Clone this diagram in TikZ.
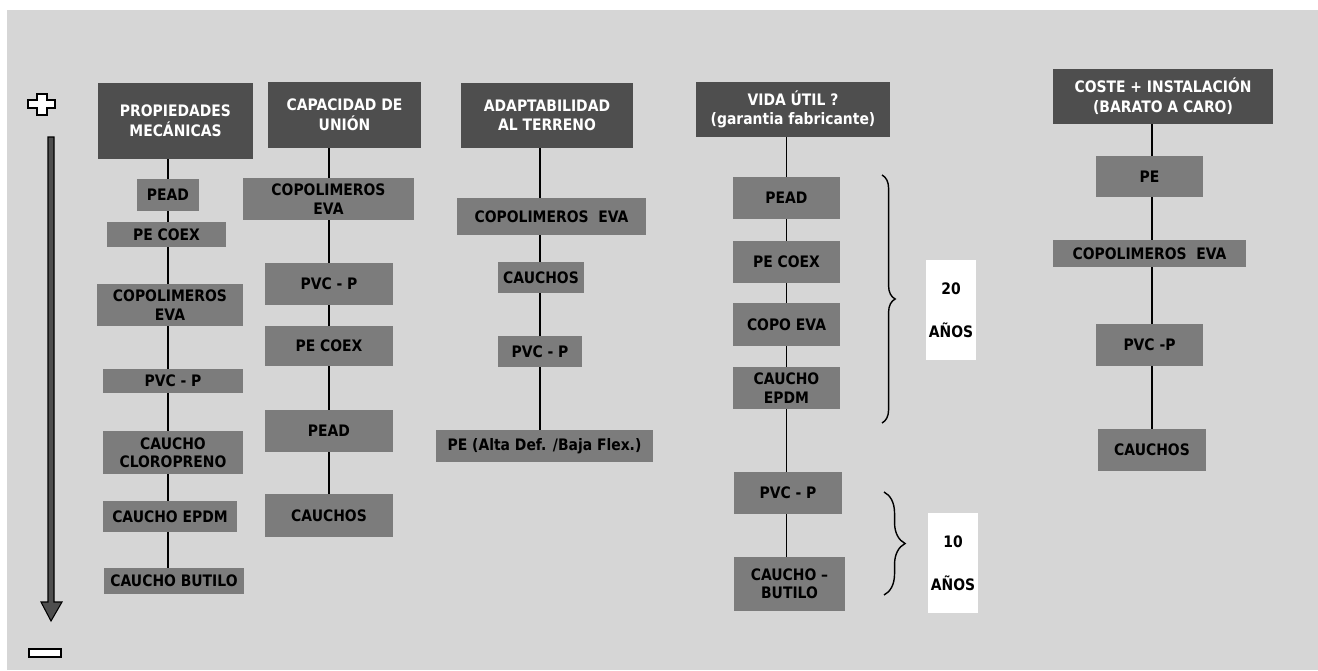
\documentclass[tikz,border=0pt]{standalone}
\usepackage{fontspec}
\setmainfont{DejaVu Sans}[FakeStretch=0.88]
\usepackage{tikz}
\usetikzlibrary{positioning, decorations.pathreplacing}
\usepackage{color}

\definecolor{bggray}{RGB}{214,214,214}
\definecolor{hdrgray}{RGB}{78,78,78}
\definecolor{itemgray}{RGB}{124,124,124}

\tikzset{
  hdr/.style={shape=rectangle, fill=hdrgray, text=white, align=center, inner sep=0pt,
    font=\fontsize{9}{11.2}\selectfont\bfseries},
  item/.style={shape=rectangle, fill=itemgray, text=black, align=center, inner sep=0pt,
    font=\fontsize{9}{10.4}\selectfont\bfseries},
  years/.style={shape=rectangle, fill=white, align=center, inner sep=0pt,
    minimum width=1cm, minimum height=2cm, font=\fontsize{9}{24.5}\selectfont\bfseries},
  link/.style={draw=black, line width=0.8pt},
  curly/.style={draw=black, line width=0.8pt, decorate, decoration={brace, amplitude=#1}}
}

\begin{document}
\begin{tikzpicture}[x=0.02cm, y=-0.02cm]
    \useasboundingbox (0,0) rectangle (1318,670);
    \fill[bggray] (7,10) rectangle (1318,670);

    % plus / arrow / minus scale
    \draw[fill=white, line width=1.2pt] (37,94) -- (47,94) -- (47,100) -- (55,100) -- (55,108) -- (47,108)
      -- (47,115) -- (37,115) -- (37,108) -- (28,108) -- (28,100) -- (37,100) -- cycle;
    \draw[fill=hdrgray, line width=0.6pt] (48,137) -- (54,137) -- (54,602) -- (62,602) -- (51,621)
      -- (41,602) -- (48,602) -- cycle;
    \draw[fill=white, line width=1.2pt] (29,649) rectangle (61,657);

    % propiedades mecanicas
    \node[hdr, minimum width=3.1cm, minimum height=1.52cm] (mec) at (175.5,121) {PROPIEDADES\\MECÁNICAS};
    \node[item, minimum width=1.24cm, minimum height=0.64cm] (mec1) at (168,195) {PEAD};
    \node[item, minimum width=2.38cm, minimum height=0.5cm] (mec2) at (166.5,234.5) {PE COEX};
    \node[item, minimum width=2.92cm, minimum height=0.84cm] (mec3) at (170,305) {COPOLIMEROS\\EVA};
    \node[item, minimum width=2.8cm, minimum height=0.48cm] (mec4) at (173,381) {PVC - P};
    \node[item, minimum width=2.8cm, minimum height=0.86cm] (mec5) at (173,452.5) {CAUCHO\\CLOROPRENO};
    \node[item, minimum width=2.68cm, minimum height=0.62cm] (mec6) at (170,516.5) {CAUCHO EPDM};
    \node[item, minimum width=2.8cm, minimum height=0.52cm] (mec7) at (174,581) {CAUCHO BUTILO};

    % capacidad de union
    \node[hdr, minimum width=3.06cm, minimum height=1.32cm] (uni) at (344.5,115) {CAPACIDAD DE\\UNIÓN};
    \node[item, minimum width=3.42cm, minimum height=0.84cm] (uni1) at (328.5,199) {COPOLIMEROS\\EVA};
    \node[item, minimum width=2.56cm, minimum height=0.84cm] (uni2) at (329,284) {PVC - P};
    \node[item, minimum width=2.56cm, minimum height=0.8cm] (uni3) at (329,346) {PE COEX};
    \node[item, minimum width=2.56cm, minimum height=0.84cm] (uni4) at (329,431) {PEAD};
    \node[item, minimum width=2.56cm, minimum height=0.86cm] (uni5) at (329,515.5) {CAUCHOS};

    % adaptabilidad al terreno
    \node[hdr, minimum width=3.44cm, minimum height=1.3cm] (ada) at (547,115.5) {ADAPTABILIDAD\\AL TERRENO};
    \node[item, minimum width=3.78cm, minimum height=0.74cm] (ada1) at (551.5,216.5) {COPOLIMEROS\ \ EVA};
    \node[item, minimum width=1.72cm, minimum height=0.62cm] (ada2) at (541,277.5) {CAUCHOS};
    \node[item, minimum width=1.68cm, minimum height=0.62cm] (ada3) at (540,351.5) {PVC - P};
    \node[item, minimum width=4.34cm, minimum height=0.64cm] (ada4) at (544.5,446) {PE (Alta Def. /Baja Flex.)};

    % vida util
    \node[hdr, minimum width=3.88cm, minimum height=1.1cm] (vid) at (793,109.5) {VIDA ÚTIL ?\\(garantia fabricante)};
    \node[item, minimum width=2.14cm, minimum height=0.84cm] (vid1) at (786.5,198) {PEAD};
    \node[item, minimum width=2.14cm, minimum height=0.84cm] (vid2) at (786.5,262) {PE COEX};
    \node[item, minimum width=2.14cm, minimum height=0.86cm] (vid3) at (786.5,324.5) {COPO EVA};
    \node[item, minimum width=2.14cm, minimum height=0.84cm] (vid4) at (786.5,388) {CAUCHO\\EPDM};
    \node[item, minimum width=2.16cm, minimum height=0.84cm] (vid5) at (788,493) {PVC - P};
    \node[item, minimum width=2.22cm, minimum height=1.08cm] (vid6) at (789.5,584) {CAUCHO –\\BUTILO};
    \node[years] (y20) at (951,310) {20\\AÑOS};
    \node[years] (y10) at (953,563) {10\\AÑOS};
    \draw[curly=7.5pt] (882,175) -- (882,423);
    \draw[curly=12pt] (884,492) -- (884,595);

    % coste + instalacion
    \node[hdr, minimum width=4.4cm, minimum height=1.1cm] (cos) at (1163,96.5) {COSTE + INSTALACIÓN\\(BARATO A CARO)};
    \node[item, minimum width=2.14cm, minimum height=0.82cm] (cos1) at (1149.5,176.5) {PE};
    \node[item, minimum width=3.86cm, minimum height=0.54cm] (cos2) at (1149.5,253.5) {COPOLIMEROS\ \ EVA};
    \node[item, minimum width=2.14cm, minimum height=0.84cm] (cos3) at (1149.5,345) {PVC -P};
    \node[item, minimum width=2.16cm, minimum height=0.84cm] (cos4) at (1152,450) {CAUCHOS};

    % lines down each column
    \foreach \a/\b in {mec/mec1, mec1/mec2, mec2/mec3, mec3/mec4, mec4/mec5, mec5/mec6, mec6/mec7}
      \path[link] (\a.south -| mec1) edge (\b.north -| mec1);
    \foreach \a/\b in {uni/uni1, uni1/uni2, uni2/uni3, uni3/uni4, uni4/uni5}
      \path[link] (\a.south -| uni2) edge (\b.north -| uni2);
    \foreach \a/\b in {ada/ada1, ada1/ada2, ada2/ada3, ada3/ada4}
      \path[link] (\a.south -| ada3) edge (\b.north -| ada3);
    \foreach \a/\b in {vid/vid1, vid1/vid2, vid2/vid3, vid3/vid4, vid4/vid5, vid5/vid6}
      \path[link] (\a.south -| vid1) edge (\b.north -| vid1);
    \foreach \a/\b in {cos/cos1, cos1/cos2, cos2/cos3, cos3/cos4}
      \path[link] (\a.south -| cos4) edge (\b.north -| cos4);
\end{tikzpicture}
\end{document}
